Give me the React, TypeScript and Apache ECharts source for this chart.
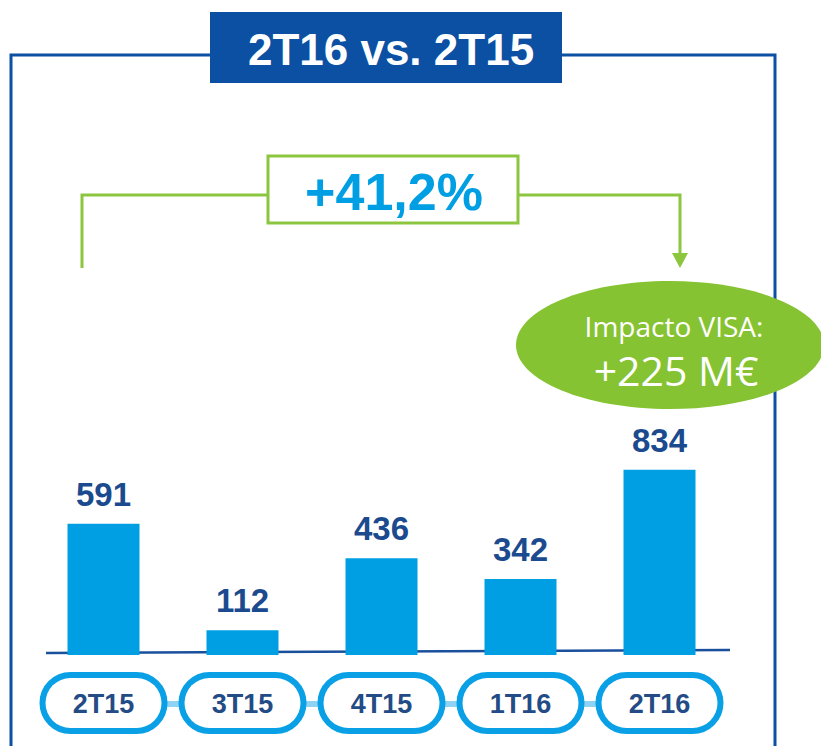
import React, { useEffect, useRef } from "react";
import * as echarts from "echarts";

const categories = ["2T15", "3T15", "4T15", "1T16", "2T16"];
const values = [591, 112, 436, 342, 834];
const titleText = "2T16 vs. 2T15";
const growthText = "+41,2%";
const visaLine1 = "Impacto VISA:";
const visaLine2 = "+225 M€";

const DARK = "#0b50a3";
const BAR = "#009fe3";
const GREEN = "#8cc63f";
const LABEL = "#1b4a8e";

export default function App() {
  const ref = useRef<HTMLDivElement>(null);
  useEffect(() => {
    if (!ref.current) return;
    const chart = echarts.init(ref.current, null, { renderer: "svg" });
    chart.setOption({
      animation: false,
      grid: { left: 34, right: 92, top: 433, bottom: 91, containLabel: false },
      xAxis: {
        type: "category",
        data: categories,
        axisLine: { show: false },
        axisTick: { show: false },
        axisLabel: {
          interval: 0,
          margin: 23,
          verticalAlign: "top",
          color: "#234b85",
          fontFamily: "Liberation Sans, Arial, sans-serif",
          fontWeight: "bold",
          fontSize: 27,
          backgroundColor: "#ffffff",
          borderColor: "#0aa0e6",
          borderWidth: 6,
          borderRadius: 26,
          width: 116,
          height: 50,
          lineHeight: 52,
          align: "center",
        },
      },
      yAxis: { type: "value", min: 0, max: 1000, show: false, splitLine: { show: false } },
      series: [
        {
          type: "bar",
          data: values,
          barWidth: 72,
          z: 3,
          itemStyle: { color: BAR },
          label: {
            show: true,
            position: "top",
            distance: 13,
            color: LABEL,
            fontFamily: "Liberation Sans, Arial, sans-serif",
            fontWeight: "bold",
            fontSize: 33,
          },
        },
      ],
      graphic: [
        { type: "line", z: 0, shape: { x1: 100, y1: 704, x2: 670, y2: 704 }, style: { stroke: "#8fd3f4", lineWidth: 6 } },
        { type: "line", z: 1, shape: { x1: 46, y1: 653, x2: 730, y2: 650 }, style: { stroke: "#1a4f9c", lineWidth: 2.5 } },
        { type: "polyline", z: 1, shape: { points: [[11, 746], [11, 55], [210, 55]] }, style: { stroke: DARK, lineWidth: 3, fill: null } },
        { type: "polyline", z: 1, shape: { points: [[562, 55], [775, 55], [775, 746]] }, style: { stroke: DARK, lineWidth: 3, fill: null } },
        { type: "rect", z: 2, shape: { x: 210, y: 12, width: 352, height: 71 }, style: { fill: DARK } },
        {
          type: "text", z: 3, x: 391, y: 49,
          style: { text: titleText, fill: "#ffffff", font: "bold 44px 'Liberation Sans', Arial, sans-serif", align: "center", verticalAlign: "middle" },
        },
        { type: "polyline", z: 1, shape: { points: [[82, 268], [82, 195], [268, 195]] }, style: { stroke: GREEN, lineWidth: 3, fill: null } },
        { type: "polyline", z: 1, shape: { points: [[518, 195], [680, 195], [680, 256]] }, style: { stroke: GREEN, lineWidth: 3, fill: null } },
        { type: "polygon", z: 1, shape: { points: [[672, 253], [688, 253], [680, 268]] }, style: { fill: GREEN } },
        { type: "rect", z: 2, shape: { x: 268, y: 156, width: 250, height: 67 }, style: { fill: "#ffffff", stroke: GREEN, lineWidth: 3 } },
        {
          type: "text", z: 3, x: 394, y: 192,
          style: { text: growthText, fill: BAR, font: "bold 52px 'Liberation Sans', Arial, sans-serif", align: "center", verticalAlign: "middle" },
        },
        { type: "ellipse", z: 4, shape: { cx: 670, cy: 345, rx: 154, ry: 64 }, style: { fill: "#86c332" } },
        {
          type: "text", z: 5, x: 674, y: 326,
          style: { text: visaLine1, fill: "#ffffff", font: "28px 'Open Sans', 'Noto Sans', sans-serif", align: "center", verticalAlign: "middle" },
        },
        {
          type: "text", z: 5, x: 676, y: 370,
          style: { text: visaLine2, fill: "#ffffff", font: "41px 'Open Sans', 'Noto Sans', sans-serif", align: "center", verticalAlign: "middle" },
        },
      ],
    });
    return () => chart.dispose();
  }, []);
  return (
    <div
      ref={ref}
      style={{ position: "fixed", left: 0, top: 0, width: 821, height: 746, background: "#ffffff" }}
    />
  );
}
